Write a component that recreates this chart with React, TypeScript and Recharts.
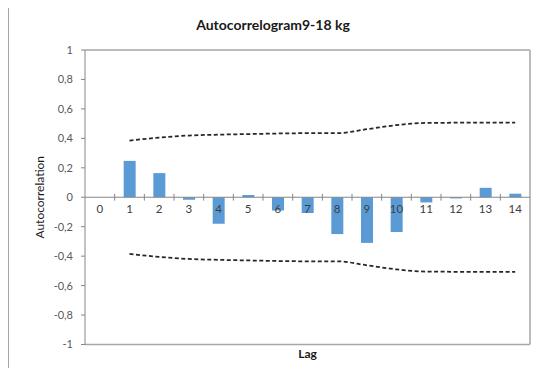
import React from "react";
import {
  ComposedChart,
  Bar,
  Line,
  XAxis,
  YAxis,
  ReferenceLine,
  LabelList,
} from "recharts";

const lags = [0, 1, 2, 3, 4, 5, 6, 7, 8, 9, 10, 11, 12, 13, 14];
const autocorrelation = [null, 0.247, 0.164, -0.017, -0.18, 0.015, -0.09, -0.107, -0.25, -0.31, -0.236, -0.035, -0.008, 0.064, 0.024];
const upperBound = [null, 0.385, 0.405, 0.419, 0.425, 0.429, 0.433, 0.435, 0.435, 0.462, 0.49, 0.505, 0.506, 0.506, 0.506];
const lowerBound = [null, -0.385, -0.405, -0.419, -0.425, -0.429, -0.433, -0.435, -0.435, -0.462, -0.49, -0.505, -0.506, -0.506, -0.506];
const yTicks = [-1, -0.8, -0.6, -0.4, -0.2, 0, 0.2, 0.4, 0.6, 0.8, 1];
const tickBoundaries = [0.5, 1.5, 2.5, 3.5, 4.5, 5.5, 6.5, 7.5, 8.5, 9.5, 10.5, 11.5, 12.5, 13.5];

const data = lags.map((lag, i) => ({
  lag,
  acf: autocorrelation[i],
  upper: upperBound[i],
  lower: lowerBound[i],
  zero: 0,
}));

const FONT = "Lato, 'Liberation Sans', sans-serif";
const GRID = "#a6a6a6";
const AXIS = "#868686";

export default function App() {
  return (
    <div
      style={{
        position: "relative",
        width: 541,
        height: 376,
        margin: -8,
        overflow: "hidden",
        background: "#fff",
        fontFamily: FONT,
      }}
    >
      <div
        style={{
          position: "absolute",
          left: 8,
          top: 5,
          width: 700,
          height: 500,
          borderLeft: `1.5px solid ${GRID}`,
          borderTop: `1.5px solid ${GRID}`,
        }}
      />
      <div
        style={{
          position: "absolute",
          left: 8,
          top: 16,
          width: 530,
          textAlign: "center",
          fontWeight: 700,
          fontSize: 14,
          lineHeight: "17px",
          color: "#1a1a1a",
        }}
      >
        Autocorrelogram9-18 kg
      </div>
      <div style={{ position: "absolute", left: 0, top: 0 }}>
        <ComposedChart
          width={541}
          height={376}
          data={data}
          margin={{ top: 50, right: 11, bottom: 0, left: 0 }}
        >
          <XAxis
            dataKey="lag"
            type="number"
            domain={[-0.5, 14.5]}
            allowDataOverflow
            tick={false}
            tickLine={false}
            axisLine={{ stroke: GRID, strokeWidth: 1.5 }}
            height={31.5}
            label={{
              value: "Lag",
              position: "insideTop",
              offset: 5,
              style: { fontFamily: FONT, fontWeight: 700, fontSize: 12, fill: "#1a1a1a" },
            }}
          />
          <YAxis
            type="number"
            domain={[-1, 1]}
            ticks={yTicks}
            interval={0}
            width={85}
            tickSize={4}
            tickMargin={8}
            tickFormatter={(v: number) => String(Math.round(v * 10) / 10).replace(".", ",")}
            tick={{ fontFamily: FONT, fontSize: 11, fill: "#595959" }}
            tickLine={{ stroke: AXIS }}
            axisLine={{ stroke: AXIS }}
            label={{
              value: "Autocorrelation",
              angle: -90,
              position: "center",
              dx: -3,
              style: { fontFamily: FONT, fontSize: 12, fill: "#1a1a1a", textAnchor: "middle" },
            }}
          />
          <ReferenceLine y={1} stroke={GRID} strokeWidth={1.5} />
          <ReferenceLine x={14.5} stroke={GRID} strokeWidth={1.5} />
          <ReferenceLine y={0} stroke={AXIS} strokeWidth={1} />
          {tickBoundaries.map((b) => (
            <ReferenceLine
              key={b}
              segment={[
                { x: b, y: -0.023 },
                { x: b, y: 0.023 },
              ]}
              stroke={AXIS}
              strokeWidth={1}
            />
          ))}
          <Bar dataKey="acf" fill="#5b9bd5" barSize={12} isAnimationActive={false} />
          <Line
            dataKey="zero"
            stroke="none"
            dot={false}
            activeDot={false}
            isAnimationActive={false}
          >
            <LabelList
              dataKey="lag"
              position="bottom"
              offset={8}
              style={{ fontFamily: FONT, fontSize: 11.5, fill: "#404040" }}
            />
          </Line>
          <Line
            dataKey="upper"
            type="monotone"
            stroke="#262626"
            strokeWidth={1.75}
            strokeDasharray="4 2.5"
            dot={false}
            activeDot={false}
            isAnimationActive={false}
          />
          <Line
            dataKey="lower"
            type="monotone"
            stroke="#262626"
            strokeWidth={1.75}
            strokeDasharray="4 2.5"
            dot={false}
            activeDot={false}
            isAnimationActive={false}
          />
        </ComposedChart>
      </div>
    </div>
  );
}
